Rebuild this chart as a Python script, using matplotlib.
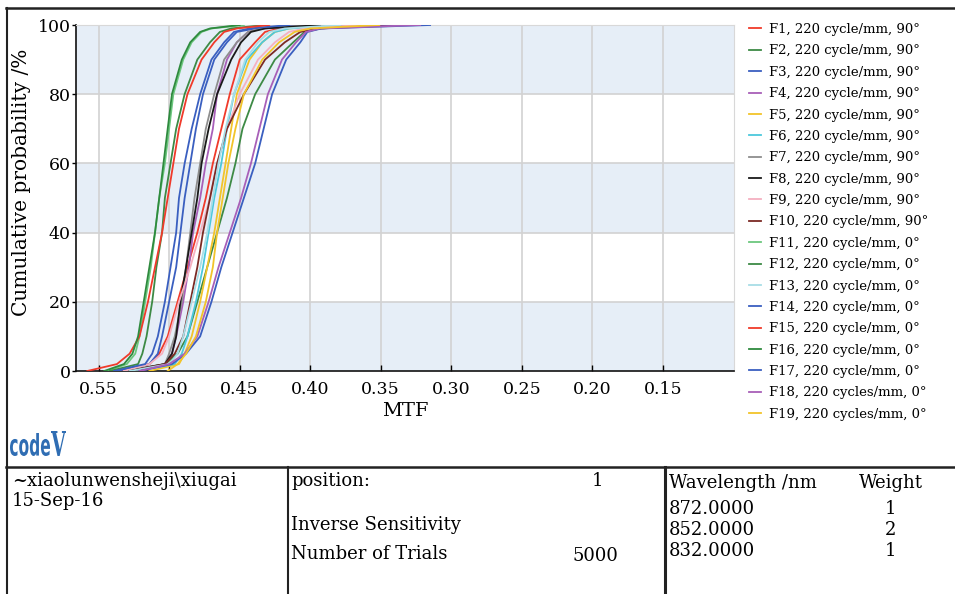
import matplotlib
matplotlib.use("Agg")
import matplotlib.pyplot as plt
from matplotlib.lines import Line2D
from matplotlib.textpath import TextPath
from matplotlib.patches import PathPatch
from matplotlib.font_manager import FontProperties
from matplotlib.transforms import Affine2D, IdentityTransform

plt.rcParams['font.family'] = ['DejaVu Serif']

# ---------------- data ----------------
p_levels = [0, 2, 5, 10, 20, 30, 40, 50, 60, 70, 80, 90, 95, 98, 99, 100]

mtf_f1 = [0.535, 0.514, 0.507, 0.501, 0.494, 0.487, 0.480, 0.474, 0.469, 0.463, 0.457, 0.450, 0.439, 0.432, 0.422, 0.386]
mtf_f2 = [0.532, 0.503, 0.494, 0.487, 0.480, 0.473, 0.466, 0.459, 0.453, 0.448, 0.439, 0.425, 0.412, 0.404, 0.393, 0.351]
mtf_f3 = [0.537, 0.514, 0.508, 0.505, 0.500, 0.495, 0.492, 0.489, 0.485, 0.481, 0.476, 0.468, 0.459, 0.452, 0.439, 0.407]
mtf_f4 = [0.528, 0.503, 0.498, 0.495, 0.490, 0.486, 0.483, 0.478, 0.474, 0.469, 0.466, 0.459, 0.452, 0.444, 0.434, 0.393]
mtf_f5 = [0.514, 0.493, 0.489, 0.484, 0.478, 0.473, 0.468, 0.464, 0.460, 0.456, 0.452, 0.443, 0.434, 0.425, 0.415, 0.372]
mtf_f6 = [0.524, 0.496, 0.491, 0.487, 0.481, 0.476, 0.472, 0.468, 0.463, 0.459, 0.454, 0.445, 0.434, 0.425, 0.415, 0.372]
mtf_f7 = [0.532, 0.503, 0.500, 0.496, 0.491, 0.488, 0.485, 0.482, 0.478, 0.474, 0.468, 0.461, 0.452, 0.444, 0.434, 0.400]
mtf_f8 = [0.529, 0.503, 0.498, 0.495, 0.492, 0.488, 0.484, 0.480, 0.477, 0.472, 0.466, 0.456, 0.449, 0.442, 0.432, 0.393]
mtf_f9 = [0.532, 0.514, 0.505, 0.500, 0.493, 0.485, 0.478, 0.471, 0.466, 0.459, 0.450, 0.437, 0.425, 0.415, 0.404, 0.365]
mtf_f10 = [0.528, 0.503, 0.496, 0.490, 0.485, 0.480, 0.476, 0.471, 0.466, 0.459, 0.447, 0.432, 0.418, 0.407, 0.393, 0.337]
mtf_f11 = [0.544, 0.530, 0.524, 0.521, 0.517, 0.513, 0.510, 0.507, 0.503, 0.500, 0.497, 0.490, 0.484, 0.477, 0.470, 0.447]
mtf_f12 = [0.542, 0.522, 0.519, 0.516, 0.512, 0.509, 0.505, 0.503, 0.499, 0.495, 0.489, 0.480, 0.471, 0.464, 0.456, 0.432]
mtf_f13 = [0.528, 0.500, 0.494, 0.490, 0.484, 0.478, 0.473, 0.469, 0.465, 0.460, 0.454, 0.446, 0.437, 0.429, 0.418, 0.379]
mtf_f14 = [0.539, 0.517, 0.512, 0.508, 0.503, 0.499, 0.495, 0.493, 0.489, 0.484, 0.478, 0.470, 0.461, 0.454, 0.443, 0.415]
mtf_f15 = [0.558, 0.537, 0.528, 0.521, 0.515, 0.510, 0.505, 0.501, 0.497, 0.493, 0.487, 0.477, 0.468, 0.461, 0.452, 0.429]
mtf_f16 = [0.546, 0.532, 0.526, 0.522, 0.518, 0.514, 0.510, 0.507, 0.504, 0.501, 0.498, 0.491, 0.485, 0.478, 0.471, 0.450]
mtf_f17 = [0.521, 0.498, 0.488, 0.478, 0.470, 0.463, 0.455, 0.447, 0.439, 0.433, 0.427, 0.417, 0.407, 0.402, 0.392, 0.315]
mtf_f18 = [0.521, 0.500, 0.489, 0.480, 0.472, 0.465, 0.457, 0.449, 0.442, 0.436, 0.430, 0.420, 0.410, 0.403, 0.393, 0.322]
mtf_f19 = [0.501, 0.494, 0.488, 0.481, 0.474, 0.469, 0.466, 0.462, 0.458, 0.453, 0.447, 0.434, 0.422, 0.411, 0.400, 0.351]

series = [mtf_f1, mtf_f2, mtf_f3, mtf_f4, mtf_f5, mtf_f6, mtf_f7, mtf_f8, mtf_f9, mtf_f10,
          mtf_f11, mtf_f12, mtf_f13, mtf_f14, mtf_f15, mtf_f16, mtf_f17, mtf_f18, mtf_f19]

labels = ["F1, 220 cycle/mm, 90°", "F2, 220 cycle/mm, 90°", "F3, 220 cycle/mm, 90°",
          "F4, 220 cycle/mm, 90°", "F5, 220 cycle/mm, 90°", "F6, 220 cycle/mm, 90°",
          "F7, 220 cycle/mm, 90°", "F8, 220 cycle/mm, 90°", "F9, 220 cycle/mm, 90°",
          "F10, 220 cycle/mm, 90°", "F11, 220 cycle/mm, 0°", "F12, 220 cycle/mm, 0°",
          "F13, 220 cycle/mm, 0°", "F14, 220 cycle/mm, 0°", "F15, 220 cycle/mm, 0°",
          "F16, 220 cycle/mm, 0°", "F17, 220 cycle/mm, 0°", "F18, 220 cycles/mm, 0°",
          "F19, 220 cycles/mm, 0°"]

colors = ['#f03a2a', '#3d8a45', '#3a5fc0', '#a85fb8', '#f2c42a', '#4cc8dc', '#8e8e8e',
          '#1a1a1a', '#f5b0c0', '#7b2a24', '#6cc77e', '#3d8a45', '#a8dde6', '#3a5fc0',
          '#f03a2a', '#2e8a3e', '#3a5fc0', '#a85fb8', '#f2c42a']

x_ticks = [0.55, 0.50, 0.45, 0.40, 0.35, 0.30, 0.25, 0.20, 0.15]
y_ticks = [0, 20, 40, 60, 80, 100]

# ---------------- figure ----------------
W, H = 955, 594
fig = plt.figure(figsize=(W / 100, H / 100), dpi=100)

def fx(px):
    return px / W

def fy(py):
    return 1 - py / H

ax = fig.add_axes([fx(76), fy(371), fx(734) - fx(76), fy(25) - fy(371)])

band = '#e6eef7'
for lo, hi in [(0, 20), (40, 60), (80, 100)]:
    ax.axhspan(lo, hi, color=band, zorder=0, lw=0)

for xv in x_ticks:
    ax.axvline(xv, color='#d2d2d2', lw=1.2, zorder=1)
for yv in y_ticks[1:-1]:
    ax.axhline(yv, color='#d2d2d2', lw=1.2, zorder=1)

handles = []
for vals, lab, col in zip(series, labels, colors):
    h, = ax.plot(vals, p_levels, color=col, lw=1.3, label=lab, zorder=3,
                 solid_joinstyle='round')
    handles.append(h)

ax.set_xlim(0.566, 0.0996)
ax.set_ylim(0, 100)
ax.set_xticks(x_ticks)
ax.set_xticklabels([f"{v:.2f}" for v in x_ticks])
ax.set_yticks(y_ticks)
ax.tick_params(axis='x', direction='in', length=4, width=1, labelsize=12.5, pad=7)
ax.tick_params(axis='y', direction='out', length=3, width=1, labelsize=12.5, pad=1)
for s in ['top', 'right']:
    ax.spines[s].set_color('#d8d8d8')
for s in ['left', 'bottom']:
    ax.spines[s].set_color('#111111')
    ax.spines[s].set_linewidth(1.2)
ax.set_xlabel("MTF", fontsize=14, labelpad=3)
ax.set_ylabel("Cumulative probability /%", fontsize=14.5)
ax.yaxis.set_label_coords(-0.068, 0.545)

leg = fig.legend(handles=handles, loc='upper left', bbox_to_anchor=(fx(749), fy(23)),
                 frameon=False, fontsize=9.5, handlelength=0.9, handletextpad=0.6,
                 labelspacing=0.635, borderpad=0, borderaxespad=0)

# ---------------- frame / table ----------------
def hline(x0, x1, y, lw=1.5):
    fig.add_artist(Line2D([fx(x0), fx(x1)], [fy(y), fy(y)], color='#222222', lw=lw))

def vline(x, y0, y1, lw=1.5):
    fig.add_artist(Line2D([fx(x), fx(x)], [fy(y0), fy(y1)], color='#222222', lw=lw))

hline(6, 955, 8, lw=1.8)
vline(7, 8, 594, lw=1.5)
hline(6, 955, 467, lw=1.8)
vline(288, 467, 594, lw=1.5)
vline(665, 467, 594, lw=2.2)

# logo: "code" + "V" scaled into pixel boxes
def logo_text(s, box, weight='bold', family='DejaVu Sans'):
    x0, y0, x1, y1 = box  # pixel coords (top-left origin)
    tp = TextPath((0, 0), s, size=20, prop=FontProperties(family=family, weight=weight))
    ext = tp.get_extents()
    sx = (x1 - x0) / ext.width
    sy = (y1 - y0) / ext.height
    tr = Affine2D().translate(-ext.x0, -ext.y0).scale(sx, sy).translate(x0, H - y1)
    fig.add_artist(PathPatch(tr.transform_path(tp), transform=IdentityTransform(),
                             color='#2f6db3', lw=0))

logo_text("code", (10, 433, 50, 456))
logo_text("V", (51, 431, 66, 456), family='DejaVu Serif')

tfs = 13
def t(px, py, s, ha='left'):
    fig.text(fx(px), fy(py), s, fontsize=tfs, ha=ha, va='center')

t(12, 481, "~xiaolunwensheji\\xiugai")
t(12, 501, "15-Sep-16")
t(291, 481, "position:")
t(603, 481, "1", ha='right')
t(291, 525, "Inverse Sensitivity")
t(291, 554, "Number of Trials")
t(618, 556, "5000", ha='right')
t(669, 483, "Wavelength /nm")
t(891, 483, "Weight", ha='center')
t(669, 509, "872.0000")
t(890, 509, "1", ha='center')
t(669, 530, "852.0000")
t(890, 530, "2", ha='center')
t(669, 551, "832.0000")
t(890, 551, "1", ha='center')

fig.savefig("out.png", dpi=100)
